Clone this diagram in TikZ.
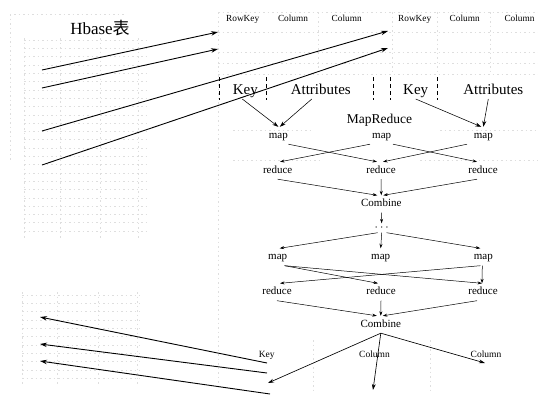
\documentclass[tikz,border=0pt]{standalone}
\usepackage{fontspec}
\setmainfont{Liberation Serif}
\newfontfamily\cjkfont{Noto Sans CJK SC}
\usetikzlibrary{arrows.meta}
\begin{document}
\begin{tikzpicture}[x=1pt,y=-1pt,
  faintgrid/.style={black!13,line width=0.4pt,dash pattern=on 1.5pt off 3pt},
  bigarr/.style={line width=0.9pt,-{Stealth[length=7pt,width=4.5pt]}},
  keyarr/.style={line width=0.55pt,-{Stealth[length=6pt,width=4pt]}},
  arr/.style={line width=0.5pt,-{Stealth[length=4.5pt,width=3pt]}},
  outarr/.style={line width=0.65pt,-{Stealth[length=6pt,width=3.8pt]}},
  hdr/.style={anchor=base,inner sep=1pt,font=\fontsize{9.3}{9.3}\selectfont},
  biglbl/.style={anchor=base,inner sep=1pt,text height=10.5pt,text depth=3.3pt,font=\fontsize{15}{15}\selectfont},
  op/.style={inner xsep=1pt,inner ysep=3.5pt,text height=7.5pt,text depth=2.5pt,font=\fontsize{11}{11}\selectfont},
  tickline/.style={line width=0.9pt,dash pattern=on 4pt off 3pt},
]
\useasboundingbox (0,0) rectangle (538,394);
\fill[white] (0,0) rectangle (538,394);

% ---- faint table grids (background) ----
\draw[faintgrid] (10,14) -- (10,160);
\draw[faintgrid] (14,14) -- (125,14);
\foreach \y in {40,48.3,...,238} \draw[faintgrid] (24,\y) -- (150,\y);
\foreach \x in {24,60,100,138} \draw[faintgrid] (\x,38) -- (\x,238);
\foreach \y in {295,303.3,...,386} \draw[faintgrid] (22,\y) -- (140,\y);
\foreach \x in {22,57,98,137} \draw[faintgrid] (\x,292) -- (\x,385);
\foreach \x in {318,392,437,490} \draw[faintgrid] (\x,12) -- (\x,75);
\draw[faintgrid] (218,12) -- (218,390);
\foreach \y in {12,32,52,63,74} \draw[faintgrid] (218,\y) -- (538,\y);
\draw[faintgrid] (233,130) -- (310,130);
\draw[faintgrid] (440,130) -- (538,130);
\draw[faintgrid] (233,160) -- (320,160);
\draw[faintgrid] (420,160) -- (538,160);
\draw[faintgrid] (313,340) -- (313,390);
\draw[faintgrid] (430,340) -- (430,390);

% ---- title and headers ----
\node[anchor=base,inner sep=0pt,font=\fontsize{17}{17}\selectfont] (hb) at (100,34.3) {Hbase{\cjkfont 表}};
\node[hdr] (h1) at (242.7,21) {RowKey};
\node[hdr] (h2) at (293,21) {Column};
\node[hdr] (h3) at (346.7,21) {Column};
\node[hdr] (h4) at (414.7,21) {RowKey};
\node[hdr] (h5) at (464.7,21) {Column};
\node[hdr] (h6) at (519.5,21) {Column};

% ---- key / attribute labels ----
\node[biglbl] (k1) at (245.3,94.5) {Key};
\node[biglbl] (a1) at (320.8,94.5) {Attributes};
\node[biglbl] (k2) at (415.7,94.5) {Key};
\node[biglbl] (a2) at (493.3,94.5) {Attributes};
\node[anchor=base,inner sep=1pt,font=\fontsize{13.5}{13.5}\selectfont] (mr) at (379.5,123.3) {MapReduce};

\foreach \x in {219,266,373,390,437} \draw[tickline] (\x,77) -- (\x,100);

% ---- operation nodes ----
\node[op] (m1) at (278.3,135.5) {map};
\node[op] (m2) at (381.7,135.5) {map};
\node[op] (m3) at (483.3,135.5) {map};
\node[op] (r1) at (277.7,170.5) {reduce};
\node[op] (r2) at (381,170.5) {reduce};
\node[op] (r3) at (483,170.5) {reduce};
\node[op] (c1) at (381.3,204) {Combine};
\node[inner sep=0pt,minimum height=9pt,font=\fontsize{13}{13}\selectfont] (dots) at (381.7,228) {$\cdots$};
\node[op] (m21) at (277.7,257) {map};
\node[op] (m22) at (380.7,257) {map};
\node[op] (m23) at (483.3,257) {map};
\node[op] (r21) at (277,292) {reduce};
\node[op] (r22) at (381,292) {reduce};
\node[op] (r23) at (483,292) {reduce};
\node[op] (c2) at (380.8,324.5) {Combine};

\node[hdr,font=\fontsize{9.5}{9.5}\selectfont] (ok) at (266.7,357) {Key};
\node[hdr,font=\fontsize{9.5}{9.5}\selectfont] (oc1) at (374.5,357) {Column};
\node[hdr,font=\fontsize{9.5}{9.5}\selectfont] (oc2) at (486,357) {Column};

% ---- free ends ----
\coordinate (s1) at (42,70);  \coordinate (t1) at (218,32);
\coordinate (s2) at (42,88);  \coordinate (t2) at (218,49);
\coordinate (s3) at (42,131); \coordinate (t3) at (388,31);
\coordinate (s4) at (42,165); \coordinate (t4) at (388,48);
\coordinate (o1) at (268,383);
\coordinate (o2) at (373,390);
\coordinate (o3) at (485,363);
\coordinate (b1s) at (267,363); \coordinate (b1e) at (40,317);
\coordinate (b2s) at (267,373); \coordinate (b2e) at (40,344);
\coordinate (b3s) at (270,394); \coordinate (b3e) at (40,361);

% ---- big arrows ----
\draw[bigarr] (s1) -- (t1);
\draw[bigarr] (s2) -- (t2);
\draw[bigarr] (s3) -- (t3);
\draw[bigarr] (s4) -- (t4);
\draw[bigarr] (b1s) -- (b1e);
\draw[bigarr] (b2s) -- (b2e);
\draw[bigarr] (b3s) -- (b3e);

% ---- key/attribute to map ----
\draw[keyarr] ([xshift=-3pt]k1.south) -- (m1.north);
\draw[keyarr] ([xshift=-9pt]a1.south) -- ([xshift=1.5pt]m1.north);
\draw[keyarr] (k2.south) -- ([xshift=-2pt]m3.north);
\draw[keyarr] ([xshift=-5pt]a2.south) -- (m3.north);

% ---- first round ----
\draw[arr] ([xshift=10pt]m1.south) -- ([xshift=-4pt]r2.north);
\draw[arr] ([xshift=-11.7pt]m2.south) -- ([xshift=2.3pt]r1.north);
\draw[arr] ([xshift=11.3pt]m2.south) -- ([xshift=-6pt]r3.north);
\draw[arr] ([xshift=-16.3pt]m3.south) -- ([xshift=2pt]r2.north);
\draw[arr] (r1.south) -- ([xshift=-4pt]c1.north);
\draw[arr] (r2.south) -- (c1.north);
\draw[arr] ([xshift=-6pt]r3.south) -- ([xshift=2pt]c1.north);
\draw[arr] (c1.south) -- (dots.north);
\draw[arr] ([xshift=-4pt]dots.south) -- ([xshift=2pt]m21.north);
\draw[arr] (dots.south) -- (m22.north);
\draw[arr] ([xshift=5pt]dots.south) -- ([xshift=-3pt]m23.north);

% ---- second round ----
\draw[arr] ([xshift=7pt]m21.south) -- ([xshift=-3pt]r22.north);
\draw[arr] ([xshift=7pt]m21.south) -- ([xshift=-1pt]r23.north);
\draw[arr] ([xshift=-3pt]m23.south) -- ([xshift=3pt]r21.north);
\draw[arr] ([xshift=-1pt]m23.south) -- ([xshift=-1pt]r23.north);
\draw[arr] (r21.south) -- ([xshift=-4pt]c2.north);
\draw[arr] (r22.south) -- (c2.north);
\draw[arr] ([xshift=-6pt]r23.south) -- ([xshift=2pt]c2.north);
\draw[outarr] (c2.south) -- (o1);
\draw[outarr] (c2.south) -- (o2);
\draw[outarr] (c2.south) -- (o3);
\end{tikzpicture}
\end{document}
